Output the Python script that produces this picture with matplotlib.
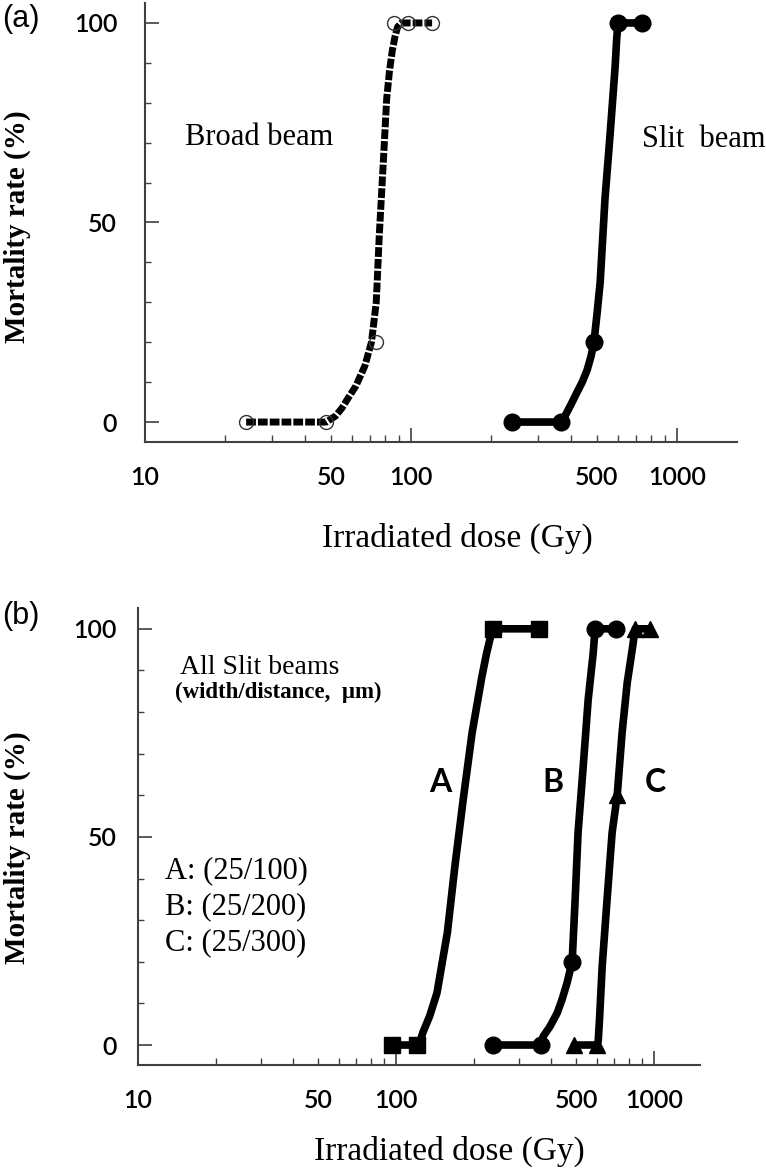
import numpy as np
import matplotlib
matplotlib.use("Agg")
import matplotlib.pyplot as plt
from matplotlib import ticker

# ---- panel (a): broad vs slit beam ----
broad_dose = [24, 48, 74, 86, 97, 120]
broad_mort = [0, 0, 20, 100, 100, 100]
broad_curve_dose = [24, 48, 52, 55, 58, 62, 67, 71, 74, 76, 78.5, 81, 83, 85, 87, 89, 92, 97, 120]
broad_curve_mort = [0, 0, 1.5, 3.5, 6, 9, 14, 20, 30, 47, 64, 81, 88, 93, 96.5, 99, 100, 100, 100]

slit_dose = [240, 365, 487, 600, 738]
slit_mort = [0, 0, 20, 100, 100]
slit_curve_dose = [240, 365, 372, 379, 400, 421, 440, 459, 475, 487, 500, 514, 536, 560, 585, 593, 600, 738]
slit_curve_mort = [0, 0, 0.5, 1.5, 4.5, 7.5, 10, 13, 16.5, 20, 27, 35, 56, 72, 89, 96, 100, 100]

# ---- panel (b): slit beams A, B, C ----
a_dose = [96, 120, 238, 358]
a_mort = [0, 0, 100, 100]
a_curve_dose = [96, 120, 124, 127, 135, 144, 158, 169, 182, 197, 215, 224, 231, 238, 358]
a_curve_mort = [0, 0, 1, 3, 7, 12.5, 27, 43, 59, 75, 88.5, 94, 97.5, 100, 100]

b_dose = [238, 365, 481, 590, 713]
b_mort = [0, 0, 20, 100, 100]
b_curve_dose = [238, 365, 368, 371, 395, 421, 440, 460, 481, 494, 507, 531, 555, 580, 586, 592, 713]
b_curve_mort = [0, 0, 0.7, 2, 4.5, 7.7, 11, 15, 20, 35, 51, 67, 83, 94, 97.5, 100, 100]

c_dose = [490, 600, 719, 845, 960]
c_mort = [0, 0, 60, 100, 100]
c_curve_dose = [490, 600, 604, 607, 615, 629, 657, 687, 719, 751, 786, 822, 835, 845, 960]
c_curve_mort = [0, 0, 0.5, 1, 7, 19, 35, 51, 60, 75, 87, 95, 98, 100, 100]

x_major = [10, 100, 1000]
x_minor = [20, 30, 40, 50, 60, 70, 80, 90, 200, 300, 400, 500, 600, 700, 800, 900]
x_minor_labels = [50, 500]

SERIF = "Liberation Serif"
SANS = "Lato"
W, H = 766, 1171

fig = plt.figure(figsize=(W / 100, H / 100), dpi=100)


def px_axes(left, top, right, bottom):
    return fig.add_axes([left / W, 1 - bottom / H, (right - left) / W, (bottom - top) / H])


def style_axes(ax, xmax, ymin, ypad):
    ax.set_xscale("log")
    ax.set_xlim(10, xmax)
    ax.set_ylim(ymin, 105)
    for s in ["top", "right"]:
        ax.spines[s].set_visible(False)
    for s in ["left", "bottom"]:
        ax.spines[s].set_color("#404040")
        ax.spines[s].set_linewidth(1.5)
    ax.xaxis.set_major_locator(ticker.FixedLocator(x_major))
    ax.xaxis.set_minor_locator(ticker.FixedLocator(x_minor))
    ax.xaxis.set_major_formatter(ticker.FuncFormatter(lambda v, p: f"{v:g}"))
    ax.xaxis.set_minor_formatter(
        ticker.FuncFormatter(lambda v, p: f"{v:g}" if round(v) in x_minor_labels else ""))
    ax.set_yticks([0, 50, 100])
    ax.set_yticks(np.arange(0, 101, 10), minor=True)
    ax.tick_params(axis="x", which="both", direction="in", color="#404040",
                   labelsize=18, pad=17)
    ax.tick_params(axis="x", which="major", length=10, width=1.2)
    ax.tick_params(axis="x", which="minor", length=5, width=1.0)
    ax.tick_params(axis="y", which="both", direction="in", color="#404040",
                   labelsize=18, pad=ypad)
    ax.tick_params(axis="y", which="major", length=10, width=1.2)
    ax.tick_params(axis="y", which="minor", length=4, width=1.0)
    for lab in ax.get_xticklabels(which="both") + ax.get_yticklabels():
        lab.set_fontfamily(SANS)
        lab.set_fontweight("semibold")


# panel (a)
ax1 = px_axes(145, 3, 737, 442)
style_axes(ax1, 1680, -5, 20)
ax1.plot(broad_curve_dose, broad_curve_mort, color="black", lw=5,
         linestyle=(0, (1.4, 0.3)), solid_capstyle="butt", dash_capstyle="butt")
ax1.plot(broad_dose, broad_mort, linestyle="none", marker="o", ms=10,
         mfc="none", mec="#333333", mew=1.0)
ax1.plot(slit_curve_dose, slit_curve_mort, color="black", lw=5.5,
         solid_capstyle="round", solid_joinstyle="round")
ax1.plot(slit_dose, slit_mort, linestyle="none", marker="o", ms=12,
         color="black")

# panel (b)
ax2 = px_axes(138, 608, 700, 1065)
style_axes(ax2, 1505, -4.8, 15)
for cd, cm, d, m, mk, ms in [
        (a_curve_dose, a_curve_mort, a_dose, a_mort, "s", 12),
        (b_curve_dose, b_curve_mort, b_dose, b_mort, "o", 12),
        (c_curve_dose, c_curve_mort, c_dose, c_mort, "^", 11)]:
    ax2.plot(cd, cm, color="black", lw=5.5, solid_capstyle="round",
             solid_joinstyle="round")
    ax2.plot(d, m, linestyle="none", marker=mk, ms=ms, color="black")

for lab, x in [("A", 148), ("B", 406), ("C", 1009)]:
    ax2.text(x, 63, lab, ha="center", va="center", fontsize=23,
             fontweight="bold", family=SANS)


def ftext(x, y, s, **kw):
    fig.text(x / W, 1 - y / H, s, **kw)


ftext(2, 19, "(a)", fontsize=22, family="Liberation Sans", va="center")
ftext(2, 616, "(b)", fontsize=22, family="Liberation Sans", va="center")

for yc in [227, 848]:
    ftext(17, yc, "Mortality rate (%)", rotation=90, ha="center", va="center",
          fontsize=21, fontweight="bold", family=SERIF)
ftext(457, 547, "Irradiated dose (Gy)", ha="center", va="baseline",
      fontsize=24, family=SERIF)
ftext(449, 1160, "Irradiated dose (Gy)", ha="center", va="baseline",
      fontsize=24, family=SERIF)

ftext(185, 145, "Broad beam", va="baseline", fontsize=22, family=SERIF)
ftext(642, 147, "Slit  beam", va="baseline", fontsize=22, family=SERIF)

ftext(180, 674, "All Slit beams", va="baseline", fontsize=20, family=SERIF)
ftext(175, 692, "(width/distance,  μm)", va="center", fontsize=16.5,
      fontweight="bold", family=SERIF)
for i, s in enumerate(["A: (25/100)", "B: (25/200)", "C: (25/300)"]):
    ftext(165, 878 + 36 * i, s, va="baseline", fontsize=22, family=SERIF)

fig.savefig("out.png", dpi=100)
